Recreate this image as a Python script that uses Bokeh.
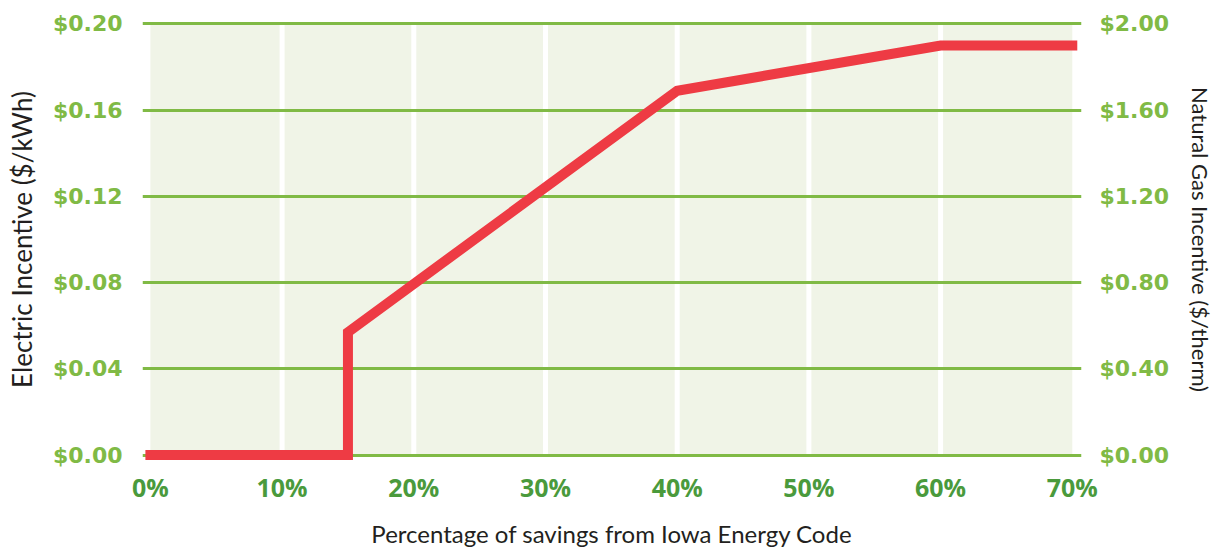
from bokeh.plotting import figure
from bokeh.models import Range1d, LinearAxis, FixedTicker
from bokeh.embed import file_html
from bokeh.resources import INLINE

# ---- data ----
savings_pct = [0, 15, 15, 40, 60, 70]
electric_incentive = [0.0, 0.0, 0.057, 0.169, 0.19, 0.19]

x_ticks = [0, 10, 20, 30, 40, 50, 60, 70]
x_tick_labels = ["0%", "10%", "20%", "30%", "40%", "50%", "60%", "70%"]
elec_ticks = [0.0, 0.04, 0.08, 0.12, 0.16, 0.20]
elec_tick_labels = ["$0.00", "$0.04", "$0.08", "$0.12", "$0.16", "$0.20"]
gas_ticks = [0.0, 0.4, 0.8, 1.2, 1.6, 2.0]
gas_tick_labels = ["$0.00", "$0.40", "$0.80", "$1.20", "$1.60", "$2.00"]

LIGHT_GREEN = "#80BA45"
DARK_GREEN = "#4A9A3C"
RED = "#EE3B44"
BAND = "#F0F4E7"
TITLE_COLOR = "#231F20"

p = figure(width=1217, height=550, output_backend="svg", toolbar_location=None,
           x_range=Range1d(-0.6, 70.7), y_range=Range1d(-0.0025, 0.2025),
           min_border_left=142, min_border_right=134, min_border_top=18, min_border_bottom=89)
p.outline_line_color = None
p.background_fill_color = "white"
p.border_fill_color = "white"

# background bands
p.quad(left=[x_ticks[0]], right=[x_ticks[-1]], bottom=[elec_ticks[0]], top=[elec_ticks[-1]],
       fill_color=BAND, line_color=None, level="image")
dividers = x_ticks[1:-1]
p.segment(x0=dividers, x1=dividers, y0=[elec_ticks[0]] * len(dividers), y1=[elec_ticks[-1]] * len(dividers),
          line_color="white", line_width=5, level="image")

# incentive line
p.line(savings_pct, electric_incentive, line_color=RED, line_width=10,
       line_join="miter", line_cap="square")

# grid
p.xgrid.grid_line_color = None
p.ygrid.ticker = FixedTicker(ticks=elec_ticks)
p.ygrid.grid_line_color = LIGHT_GREEN
p.ygrid.grid_line_width = 3

# x axis
xa = p.xaxis[0]
xa.ticker = FixedTicker(ticks=x_ticks)
xa.major_label_overrides = dict(zip(x_ticks, x_tick_labels))
xa.axis_line_color = None
xa.major_tick_line_color = None
xa.minor_tick_line_color = None
xa.major_label_text_font = "Open Sans"
xa.major_label_text_font_style = "bold"
xa.major_label_text_font_size = "25px"
xa.major_label_text_color = DARK_GREEN
xa.major_label_standoff = 3
xa.axis_label = "Percentage of savings from Iowa Energy Code"
xa.axis_label_text_font = "Lato"
xa.axis_label_text_font_style = "normal"
xa.axis_label_text_font_size = "24px"
xa.axis_label_text_color = TITLE_COLOR
xa.axis_label_standoff = 12

# left axis
ya = p.yaxis[0]
ya.ticker = FixedTicker(ticks=elec_ticks)
ya.major_label_overrides = dict(zip(elec_ticks, elec_tick_labels))
ya.axis_line_color = None
ya.major_tick_line_color = None
ya.minor_tick_line_color = None
ya.major_label_text_font = "DejaVu Sans"
ya.major_label_text_font_style = "bold"
ya.major_label_text_font_size = "22px"
ya.major_label_text_color = LIGHT_GREEN
ya.major_label_standoff = 14
ya.axis_label = "Electric Incentive ($/kWh)"
ya.axis_label_text_font = "Lato"
ya.axis_label_text_font_style = "normal"
ya.axis_label_text_font_size = "26px"
ya.axis_label_text_color = TITLE_COLOR
ya.axis_label_standoff = 12

# right axis
p.extra_y_ranges = {"gas": Range1d(-0.025, 2.025)}
ra = LinearAxis(y_range_name="gas", ticker=FixedTicker(ticks=gas_ticks))
ra.major_label_overrides = dict(zip(gas_ticks, gas_tick_labels))
ra.axis_line_color = None
ra.major_tick_line_color = None
ra.minor_tick_line_color = None
ra.major_label_text_font = "DejaVu Sans"
ra.major_label_text_font_style = "bold"
ra.major_label_text_font_size = "22px"
ra.major_label_text_color = LIGHT_GREEN
ra.major_label_standoff = 12
ra.axis_label = "Natural Gas Incentive ($/therm)"
ra.axis_label_text_font = "Lato"
ra.axis_label_text_font_style = "normal"
ra.axis_label_text_font_size = "22px"
ra.axis_label_text_color = TITLE_COLOR
ra.axis_label_standoff = 15
p.add_layout(ra, "right")

open("out.html", "w").write(file_html(p, INLINE))
